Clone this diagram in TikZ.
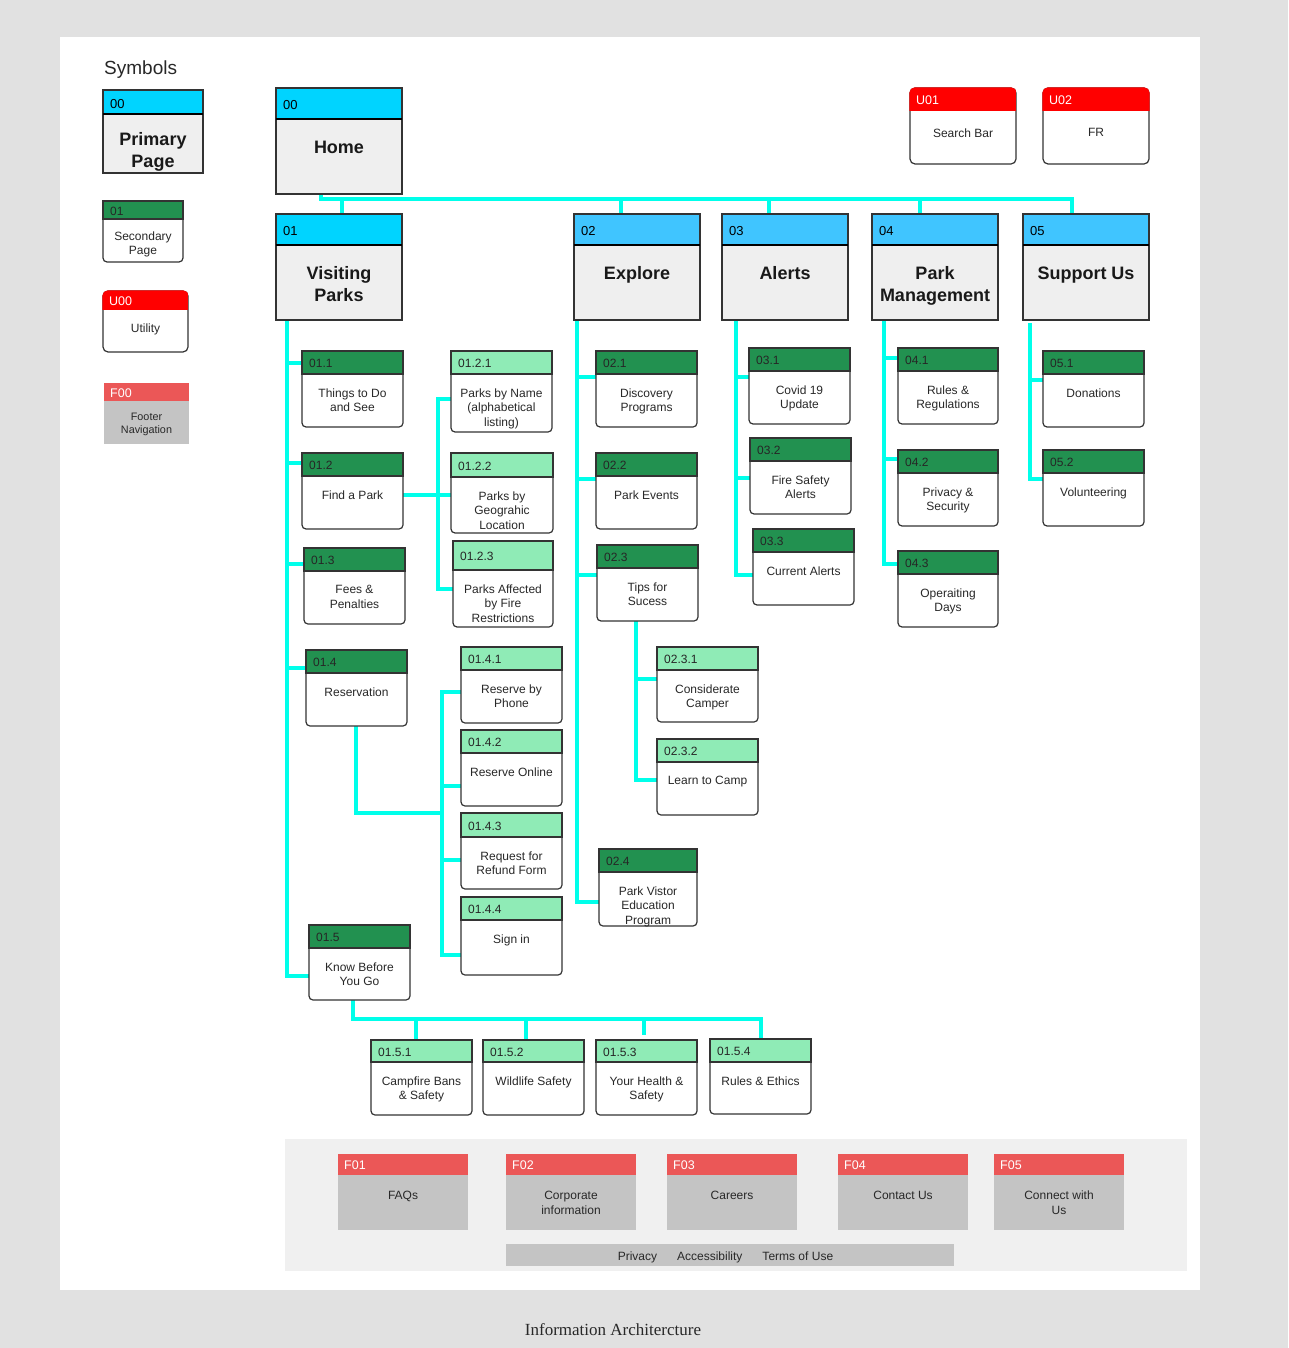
\documentclass[tikz,border=0pt]{standalone}
\usepackage{fontspec}
\setmainfont{Liberation Sans}
\newfontfamily\capfont{Liberation Serif}
\usetikzlibrary{calc}
\definecolor{pagebg}{RGB}{225,225,225}
\definecolor{footbg}{RGB}{240,240,240}
\definecolor{cyanA}{RGB}{0,212,255}
\definecolor{cyanB}{RGB}{64,197,255}
\definecolor{primbody}{RGB}{239,239,239}
\definecolor{sechdr}{RGB}{34,145,80}
\definecolor{terhdr}{RGB}{143,235,182}
\definecolor{utilred}{RGB}{255,0,0}
\definecolor{footred}{RGB}{235,87,87}
\definecolor{footgray}{RGB}{196,196,196}
\definecolor{conncol}{RGB}{0,255,234}
\definecolor{edgecol}{RGB}{51,51,51}
\definecolor{txtcol}{RGB}{40,40,40}
\pgfdeclarelayer{back}
\pgfdeclarelayer{links}
\pgfsetlayers{back,links,main}
\tikzset{
  conn/.style={draw=conncol, line width=4pt, line join=miter},
  boxshape/.style={inner sep=0pt, outer sep=0pt},
  primid/.style={anchor=west, inner sep=0pt, text=black, font=\fontsize{13pt}{15pt}\selectfont},
  subid/.style={anchor=west, inner sep=0pt, text=black!85, font=\fontsize{12pt}{14pt}\selectfont},
  whiteid/.style={anchor=west, inner sep=0pt, text=white, font=\fontsize{12.5pt}{14pt}\selectfont},
  primtitle/.style={anchor=north, inner sep=0pt, align=center, text=black!90, font=\fontsize{18pt}{21.5pt}\selectfont\bfseries},
  subtext/.style={anchor=north, inner sep=0pt, align=center, text=txtcol, font=\fontsize{12pt}{14.5pt}\selectfont},
}
% offsets from header bottom to top of first text line
\def\primoff{21.6}
\def\secoff{14.4}
\def\teroff{14.4}
\def\utiloff{17.4}
\def\footoff{16}
% #1 header colour, #2 name, #3 x1, #4 y1, #5 x2, #6 y2, #7 header bottom, #8 id, #9 title
\newcommand{\PrimBox}[9]{%
  \node[boxshape, draw=edgecol, line width=1.5pt, fill=primbody,
        minimum width={(#5-#3)*1pt}, minimum height={(#6-#4)*1pt}]
        (#2) at ({(#3+#5)/2},{(#4+#6)/2}) {};
  \draw[edgecol, line width=1.5pt, fill=#1] (#2.north west) rectangle (#5,#7);
  \draw[black, line width=2pt] (#3,#7) -- (#5,#7);
  \node[primid] (#2id) at ({#3+7},{(#4+#7)/2+2}) {#8};
  \node[primtitle] (#2t) at ({(#3+#5)/2},{#7+\primoff}) {#9};
}
% #1 type (sec/ter), #2 name, #3 x1, #4 y1, #5 x2, #6 y2, #7 header bottom, #8 id, #9 text
\newcommand{\SubBox}[9]{%
  \node[boxshape, draw=edgecol, line width=1.2pt, fill=white, rounded corners=4pt,
        minimum width={(#5-#3)*1pt}, minimum height={(#6-#4)*1pt}]
        (#2) at ({(#3+#5)/2},{(#4+#6)/2}) {};
  \draw[edgecol, line width=1.2pt, fill=#1hdr] (#2.north west) rectangle (#5,#7);
  \node[subid] (#2id) at ({#3+7},{(#4+#7)/2+1}) {#8};
  \node[subtext] (#2t) at ({(#3+#5)/2},{#7+\csname #1off\endcsname}) {#9};
}
% #1 name, #2 x1, #3 y1, #4 x2, #5 y2, #6 header bottom, #7 id, #8 text
\newcommand{\UtilBox}[8]{%
  \node[boxshape, draw=edgecol, line width=1.2pt, fill=white, rounded corners=5pt,
        minimum width={(#4-#2)*1pt}, minimum height={(#5-#3)*1pt}]
        (#1) at ({(#2+#4)/2},{(#3+#5)/2}) {};
  \begin{scope}
    \clip[rounded corners=5.6pt] ({#2-0.7},{#3-0.7}) rectangle ({#4+0.7},{#5+0.7});
    \fill[utilred] ({#2-0.7},{#3-0.7}) rectangle ({#4+0.7},#6);
  \end{scope}
  \node[whiteid] (#1id) at ({#2+6},{(#3+#6)/2+1}) {#7};
  \node[subtext] (#1t) at ({(#2+#4)/2},{#6+\utiloff}) {#8};
}
\newcommand{\FootBox}[8]{%
  \node[boxshape, fill=footgray,
        minimum width={(#4-#2)*1pt}, minimum height={(#5-#3)*1pt}]
        (#1) at ({(#2+#4)/2},{(#3+#5)/2}) {};
  \fill[footred] (#1.north west) rectangle (#4,#6);
  \node[whiteid] (#1id) at ({#2+6},{(#3+#6)/2+1}) {#7};
  \node[subtext] (#1t) at ({(#2+#4)/2},{#6+\footoff}) {#8};
}
\begin{document}
\begin{tikzpicture}[x=1pt,y=-1pt]
\useasboundingbox (0,0) rectangle (1288,1348);
\begin{pgfonlayer}{back}
  \fill[pagebg] (0,0) rectangle (1288,1348);
  \fill[white] (60,37) rectangle (1200,1290);
  \fill[footbg] (285,1139) rectangle (1187,1271);
\end{pgfonlayer}

% ---- legend
\node[anchor=base west, inner sep=0pt, text=txtcol, font=\fontsize{19pt}{22pt}\selectfont] (sym) at (104,75) {Symbols};
\begin{scope}
  \def\primoff{18.6}
  \PrimBox{cyanA}{lp}{103}{90}{203}{173}{114}{00}{Primary\\Page}
\end{scope}
\begin{scope}
  \def\secoff{12.4}
  \SubBox{sec}{ls}{103}{201}{183}{262}{219}{01}{Secondary\\Page}
\end{scope}
\begin{scope}
  \def\utiloff{13.4}
  \UtilBox{lu}{103}{291}{188}{352}{310}{U00}{Utility}
\end{scope}
\begin{scope}[subtext/.append style={font=\fontsize{10.8pt}{12.5pt}\selectfont}]
  \def\footoff{12.2}
  \FootBox{lf}{104}{383}{189}{444}{401}{F00}{Footer\\Navigation}
\end{scope}

% ---- primary pages
\PrimBox{cyanA}{home}{276}{88}{402}{194}{119}{00}{Home}
\PrimBox{cyanA}{b01}{276}{214}{402}{320}{245}{01}{Visiting\\Parks}
\PrimBox{cyanB}{b02}{574}{214}{700}{320}{245}{02}{Explore}
\PrimBox{cyanB}{b03}{722}{214}{848}{320}{245}{03}{Alerts}
\PrimBox{cyanB}{b04}{872}{214}{998}{320}{245}{04}{Park\\Management}
\PrimBox{cyanB}{b05}{1023}{214}{1149}{320}{245}{05}{Support Us}

% ---- utilities
\UtilBox{u01}{910}{88}{1016}{164}{111}{U01}{Search Bar}
\UtilBox{u02}{1043}{88}{1149}{164}{111}{U02}{FR}

% ---- secondary pages
\SubBox{sec}{b011}{302}{351}{403}{427}{374}{01.1}{Things to Do\\and See}
\SubBox{sec}{b012}{302}{453}{403}{529}{476}{01.2}{Find a Park}
\SubBox{sec}{b013}{304}{548}{405}{624}{571}{01.3}{Fees \&\\Penalties}
\SubBox{sec}{b014}{306}{650}{407}{726}{673}{01.4}{Reservation}
\SubBox{sec}{b015}{309}{925}{410}{1000}{948}{01.5}{Know Before\\You Go}
\SubBox{sec}{b021}{596}{351}{697}{427}{374}{02.1}{Discovery\\Programs}
\SubBox{sec}{b022}{596}{453}{697}{529}{476}{02.2}{Park Events}
\SubBox{sec}{b023}{597}{545}{698}{621}{568}{02.3}{Tips for\\Sucess}
\SubBox{sec}{b024}{599}{849}{697}{926}{872}{02.4}{Park Vistor\\Education\\Program}
\SubBox{sec}{b031}{749}{348}{850}{424}{371}{03.1}{Covid 19\\Update}
\SubBox{sec}{b032}{750}{438}{851}{514}{461}{03.2}{Fire Safety\\Alerts}
\SubBox{sec}{b033}{753}{529}{854}{605}{552}{03.3}{Current Alerts}
\SubBox{sec}{b041}{898}{348}{998}{424}{371}{04.1}{Rules \&\\Regulations}
\SubBox{sec}{b042}{898}{450}{998}{526}{473}{04.2}{Privacy \&\\Security}
\SubBox{sec}{b043}{898}{551}{998}{627}{574}{04.3}{Operaiting\\Days}
\SubBox{sec}{b051}{1043}{351}{1144}{427}{374}{05.1}{Donations}
\SubBox{sec}{b052}{1043}{450}{1144}{526}{473}{05.2}{Volunteering}

% ---- tertiary pages
\SubBox{ter}{b0121}{451}{351}{552}{432}{374}{01.2.1}{Parks by Name\\(alphabetical\\listing)}
\SubBox{ter}{b0122}{451}{453}{553}{533}{477}{01.2.2}{Parks by\\Geograhic\\Location}
\SubBox{ter}{b0123}{453}{541}{553}{627}{570}{01.2.3}{Parks Affected\\by Fire\\Restrictions}
\SubBox{ter}{b0141}{461}{647}{562}{723}{670}{01.4.1}{Reserve by\\Phone}
\SubBox{ter}{b0142}{461}{730}{562}{806}{753}{01.4.2}{Reserve Online}
\SubBox{ter}{b0143}{461}{813}{562}{889}{837}{01.4.3}{Request for\\Refund Form}
\SubBox{ter}{b0144}{461}{897}{562}{975}{920}{01.4.4}{Sign in}
\SubBox{ter}{b0231}{657}{647}{758}{722}{670}{02.3.1}{Considerate\\Camper}
\SubBox{ter}{b0232}{657}{739}{758}{815}{762}{02.3.2}{Learn to Camp}
\SubBox{ter}{b0151}{371}{1040}{472}{1115}{1062}{01.5.1}{Campfire Bans\\\& Safety}
\SubBox{ter}{b0152}{483}{1040}{584}{1115}{1062}{01.5.2}{Wildlife Safety}
\SubBox{ter}{b0153}{596}{1040}{697}{1115}{1062}{01.5.3}{Your Health \&\\Safety}
\SubBox{ter}{b0154}{710}{1039}{811}{1114}{1062}{01.5.4}{Rules \& Ethics}

% ---- footer
\FootBox{f01}{338}{1154}{468}{1230}{1175}{F01}{FAQs}
\FootBox{f02}{506}{1154}{636}{1230}{1175}{F02}{Corporate\\information}
\FootBox{f03}{667}{1154}{797}{1230}{1175}{F03}{Careers}
\FootBox{f04}{838}{1154}{968}{1230}{1175}{F04}{Contact Us}
\FootBox{f05}{994}{1154}{1124}{1230}{1175}{F05}{Connect with\\Us}
\node[boxshape, fill=footgray, minimum width=448pt, minimum height=22pt] (fbar) at (730,1254.5) {};
\node[subtext, anchor=base] (fbart) at (725.5,1260) {Privacy\hspace{20pt}Accessibility\hspace{20pt}Terms of Use};

% ---- caption
\node[anchor=base, inner sep=0pt, text=txtcol, font=\capfont\fontsize{17pt}{20pt}\selectfont] (cap) at (613,1335) {Information Architercture};

% ---- connectors
\begin{pgfonlayer}{links}
  \coordinate (hb) at (321,199);
  \coordinate (he) at (1072,199);
  \draw[conn] (home.south -| hb) -- (hb) -- (he) -- (he |- b05.north);
  \foreach \nn/\xx in {b01/342,b02/621,b03/769,b04/920}{
    \coordinate (dd) at (\xx,199);
    \draw[conn] (dd) -- (dd |- \nn.north);
  }
  % 01
  \coordinate (t01) at (287,976);
  \draw[conn] (b01.south -| t01) -- (t01) -- (t01 -| b015.west);
  \foreach \nn/\yy in {b011/363,b012/463,b013/564,b014/668}{
    \coordinate (jj) at (287,\yy);
    \draw[conn] (jj) -- (jj -| \nn.west);
  }
  % 01.2
  \coordinate (j12a) at (438,399);
  \coordinate (j12b) at (438,495);
  \coordinate (j12c) at (438,589);
  \draw[conn] (j12b -| b012.east) -- (j12b -| b0122.west);
  \draw[conn] (j12a -| b0121.west) -- (j12a) -- (j12c) -- (j12c -| b0123.west);
  % 01.4
  \coordinate (j14) at (356,813);
  \coordinate (j14m) at (442,813);
  \draw[conn] (b014.south -| j14) -- (j14) -- (j14m);
  \coordinate (j14a) at (442,692);
  \coordinate (j14d) at (442,955);
  \draw[conn] (j14a -| b0141.west) -- (j14a) -- (j14d) -- (j14d -| b0144.west);
  \foreach \nn/\yy in {b0142/786,b0143/860}{
    \coordinate (jj) at (442,\yy);
    \draw[conn] (jj) -- (jj -| \nn.west);
  }
  % 01.5
  \coordinate (j15) at (353,1019);
  \coordinate (j15e) at (761,1019);
  \draw[conn] (b015.south -| j15) -- (j15) -- (j15e) -- (j15e |- b0154.north);
  \foreach \nn/\xx in {b0151/416,b0152/526}{
    \coordinate (dd) at (\xx,1019);
    \draw[conn] (dd) -- (dd |- \nn.north);
  }
  \coordinate (d153) at (644,1019);
  \draw[conn] (d153) -- ($(d153 |- b0153.north)+(0,-5)$);
  % 02
  \coordinate (t02) at (577,902);
  \draw[conn] (b02.south -| t02) -- (t02) -- (t02 -| b024.west);
  \foreach \nn/\yy in {b021/377,b022/479,b023/575}{
    \coordinate (jj) at (577,\yy);
    \draw[conn] (jj) -- (jj -| \nn.west);
  }
  % 02.3
  \coordinate (t23) at (636,780);
  \draw[conn] (b023.south -| t23) -- (t23) -- (t23 -| b0232.west);
  \coordinate (j231) at (636,679);
  \draw[conn] (j231) -- (j231 -| b0231.west);
  % 03
  \coordinate (t03) at (736,575);
  \draw[conn] (b03.south -| t03) -- (t03) -- (t03 -| b033.west);
  \foreach \nn/\yy in {b031/377,b032/478}{
    \coordinate (jj) at (736,\yy);
    \draw[conn] (jj) -- (jj -| \nn.west);
  }
  % 04
  \coordinate (t04) at (884,564);
  \draw[conn] (b04.south -| t04) -- (t04) -- (t04 -| b043.west);
  \foreach \nn/\yy in {b041/358,b042/459}{
    \coordinate (jj) at (884,\yy);
    \draw[conn] (jj) -- (jj -| \nn.west);
  }
  % 05
  \coordinate (t05s) at (1030,323);
  \coordinate (t05) at (1030,479);
  \draw[conn] (t05s) -- (t05) -- (t05 -| b052.west);
  \coordinate (j051) at (1030,380);
  \draw[conn] (j051) -- (j051 -| b051.west);
\end{pgfonlayer}
\end{tikzpicture}
\end{document}
